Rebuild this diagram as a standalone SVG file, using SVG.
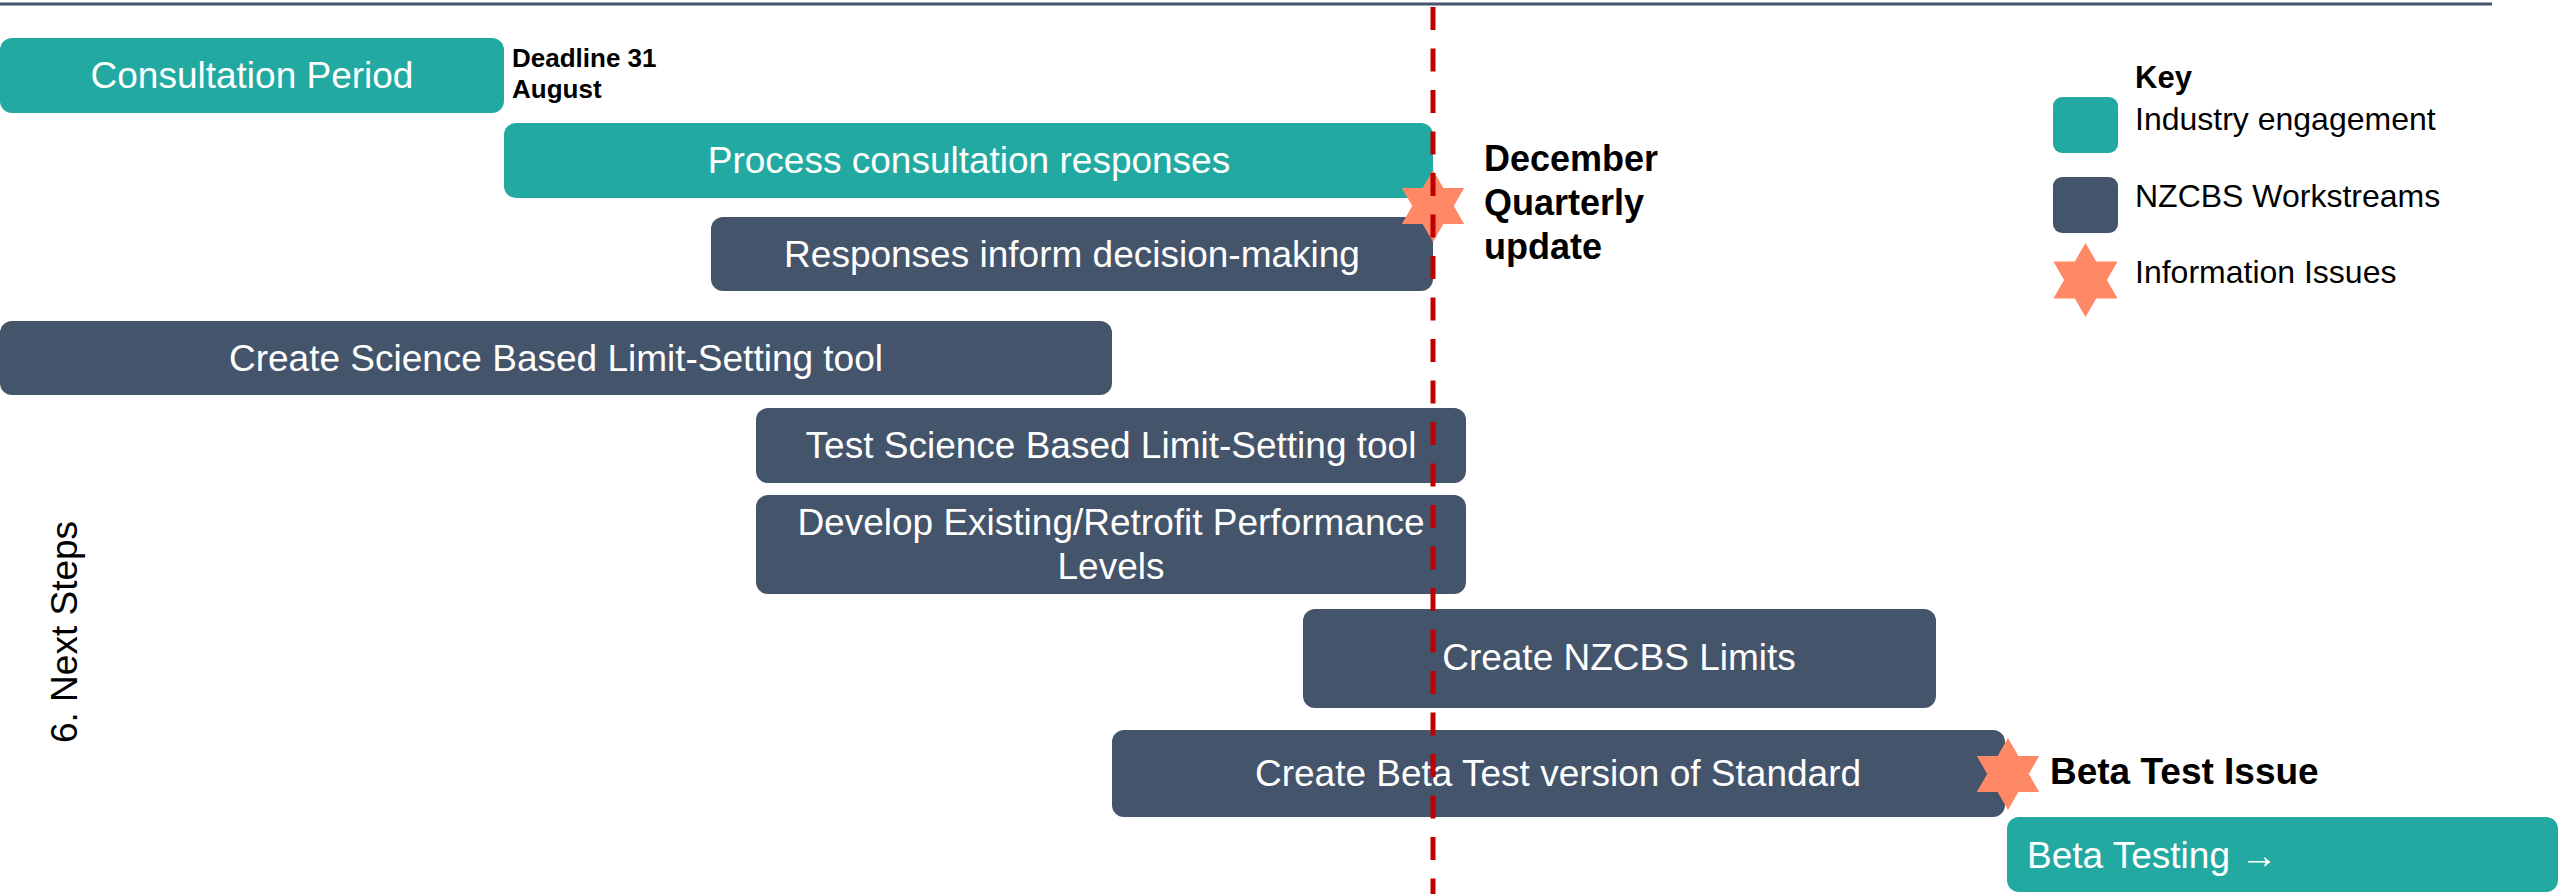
<svg xmlns="http://www.w3.org/2000/svg" xmlns:xlink="http://www.w3.org/1999/xlink" width="2560" height="894" viewBox="0 0 2560 894">
<style>
.teal{fill:#22AAA2}
.slate{fill:#44546A}
.lbl{font-family:"Liberation Sans",Arial,sans-serif;font-size:37px;fill:#FFFFFF;text-anchor:middle}
.note{font-family:"Liberation Sans",Arial,sans-serif;font-weight:bold;fill:#000000}
.key{font-family:"Liberation Sans",Arial,sans-serif;font-size:32px;fill:#000000}
.star{fill:#FF8966}
</style>
<defs>
<path id="hexstar" d="M0,-36 L10.39,-18 L31.18,-18 L20.78,0 L31.18,18 L10.39,18 L0,36 L-10.39,18 L-31.18,18 L-20.78,0 L-31.18,-18 L-10.39,-18 Z"/>
</defs>
<rect width="2560" height="894" fill="#FFFFFF"/>
<line x1="0" y1="4" x2="2492" y2="4" stroke="#44546A" stroke-width="3"/>
<g id="title">
<text class="key" transform="translate(77,632) rotate(-90)" text-anchor="middle" style="font-size:37px">6. Next Steps</text>
</g>
<g id="consultation">
<rect class="teal" x="0" y="38" width="504" height="75" rx="12"/>
<text class="lbl" x="252" y="88">Consultation Period</text>
</g>
<g id="deadline">
<text class="note" x="512" y="67" font-size="26">Deadline 31</text>
<text class="note" x="512" y="98" font-size="26">August</text>
</g>
<g id="process">
<rect class="teal" x="504" y="123" width="929" height="75" rx="12"/>
<text class="lbl" x="969" y="173">Process consultation responses</text>
</g>
<g id="responses">
<rect class="slate" x="711" y="217" width="722" height="74" rx="12"/>
<text class="lbl" x="1072" y="267">Responses inform decision-making</text>
</g>
<g id="create-tool">
<rect class="slate" x="0" y="321" width="1112" height="74" rx="12"/>
<text class="lbl" x="556" y="371">Create Science Based Limit-Setting tool</text>
</g>
<g id="test-tool">
<rect class="slate" x="756" y="408" width="710" height="75" rx="12"/>
<text class="lbl" x="1111" y="458">Test Science Based Limit-Setting tool</text>
</g>
<g id="develop">
<rect class="slate" x="756" y="495" width="710" height="99" rx="12"/>
<text class="lbl" x="1111" y="535">Develop Existing/Retrofit Performance</text>
<text class="lbl" x="1111" y="579">Levels</text>
</g>
<g id="nzcbs-limits">
<rect class="slate" x="1303" y="609" width="633" height="99" rx="12"/>
<text class="lbl" x="1619" y="670">Create NZCBS Limits</text>
</g>
<g id="beta-version">
<rect class="slate" x="1112" y="730" width="893" height="87" rx="12"/>
<text class="lbl" x="1558" y="786">Create Beta Test version of Standard</text>
</g>
<g id="beta-testing">
<rect class="teal" x="2007" y="817" width="551" height="75" rx="12"/>
<text class="lbl" x="2027" y="868" style="text-anchor:start">Beta Testing →</text>
</g>
<g id="december-update">
<use xlink:href="#hexstar" class="star" transform="translate(1433,206)"/>
<text class="note" x="1484" y="171" font-size="36">December</text>
<text class="note" x="1484" y="215" font-size="36">Quarterly</text>
<text class="note" x="1484" y="259" font-size="36">update</text>
</g>
<g id="beta-issue">
<use xlink:href="#hexstar" class="star" transform="translate(2008,774)"/>
<text class="note" x="2050" y="784" font-size="37">Beta Test Issue</text>
</g>
<g id="legend">
<text class="note" x="2135" y="88" font-size="31">Key</text>
<rect class="teal" x="2053" y="97" width="65" height="56" rx="9"/>
<text class="key" x="2135" y="130">Industry engagement</text>
<rect class="slate" x="2053" y="177" width="65" height="56" rx="9"/>
<text class="key" x="2135" y="207">NZCBS Workstreams</text>
<use xlink:href="#hexstar" class="star" transform="translate(2085.5,280) scale(1.03)"/>
<text class="key" x="2135" y="283">Information Issues</text>
</g>
<g id="connectors">
<line x1="1433" y1="7" x2="1433" y2="894" stroke="#C00000" stroke-width="5" stroke-dasharray="23 18.5"/>
</g>
</svg>
